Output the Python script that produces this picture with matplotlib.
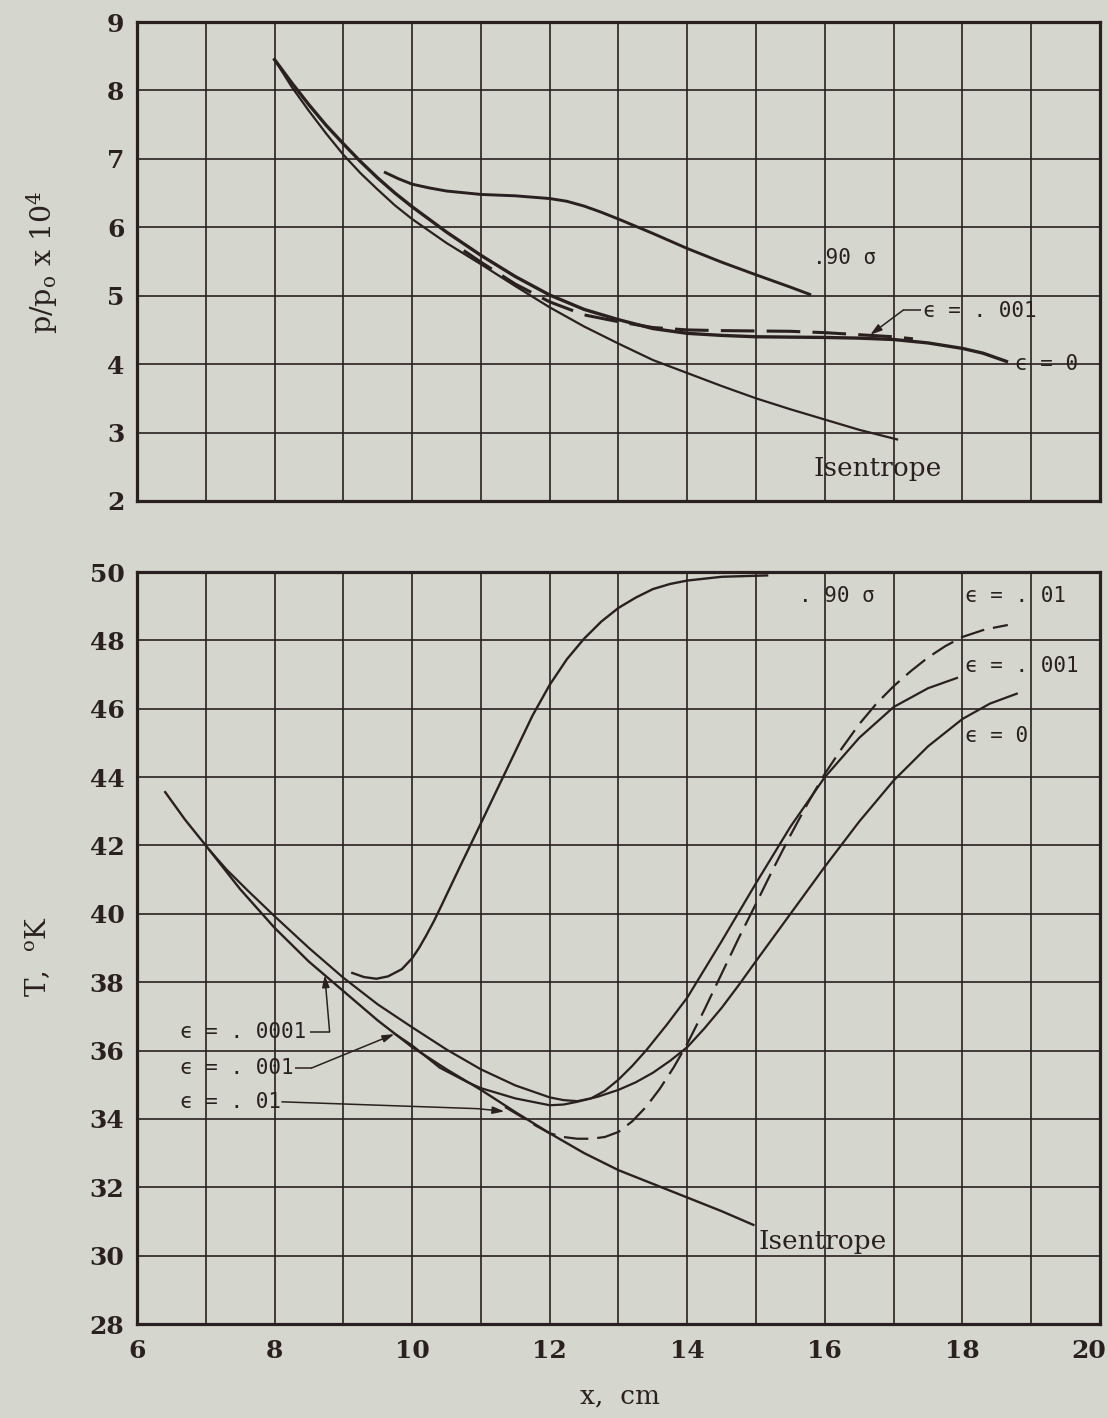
import matplotlib
matplotlib.use('Agg')
import matplotlib.pyplot as plt
import matplotlib.transforms as mtransforms

BG = '#d5d6ce'
INK = '#2a2020'

# ---------------- common x axis ----------------
x_ticks = list(range(6, 21))
x_ticklabels = ['6', '', '8', '', '10', '', '12', '', '14', '', '16', '', '18', '', '20']

# ---------------- upper panel: p/p0 x 10^4 ----------------
top_yticks = [2, 3, 4, 5, 6, 7, 8, 9]
top_yticklabels = ['2', '3', '4', '5', '6', '7', '8', '9']

top_isen_x = [8.0, 8.25, 8.5, 8.75, 9.0, 9.25, 9.5, 9.75, 10.0, 10.5, 11.0, 11.5, 12.0,
              12.5, 13.0, 13.5, 14.0, 14.5, 15.0, 15.5, 16.0, 16.5, 17.05]
top_isen_y = [8.45, 8.05, 7.70, 7.37, 7.06, 6.79, 6.55, 6.32, 6.12, 5.77, 5.46, 5.14, 4.83,
              4.55, 4.30, 4.06, 3.87, 3.68, 3.50, 3.34, 3.19, 3.04, 2.90]

top_e0_x = [8.0, 8.25, 8.5, 8.75, 9.0, 9.25, 9.5, 9.75, 10.0, 10.5, 11.0, 11.5, 12.0, 12.5,
            13.0, 13.5, 14.0, 14.5, 15.0, 15.5, 16.0, 16.5, 17.0, 17.5, 18.0, 18.3, 18.64]
top_e0_y = [8.45, 8.11, 7.79, 7.49, 7.22, 6.96, 6.72, 6.50, 6.30, 5.93, 5.59, 5.28, 5.01,
            4.80, 4.65, 4.52, 4.45, 4.42, 4.40, 4.395, 4.39, 4.38, 4.36, 4.31, 4.23, 4.16,
            4.04]

top_e001_x = [10.75, 11.0, 11.25, 11.5, 12.0, 12.5, 13.0, 13.5, 14.0, 14.5, 15.0, 15.5,
              16.0, 16.5, 17.0, 17.28]
top_e001_y = [5.66, 5.49, 5.33, 5.17, 4.91, 4.72, 4.62, 4.535, 4.50, 4.49, 4.485, 4.48,
              4.46, 4.43, 4.40, 4.37]

top_s90_x = [9.61, 9.8, 10.0, 10.25, 10.5, 11.0, 11.5, 12.0, 12.25, 12.5, 12.75, 13.0,
             13.5, 14.0, 14.5, 15.0, 15.5, 15.78]
top_s90_y = [6.80, 6.71, 6.63, 6.575, 6.53, 6.48, 6.46, 6.42, 6.38, 6.31, 6.22, 6.12,
             5.91, 5.69, 5.49, 5.305, 5.125, 5.02]

# ---------------- lower panel: T, K ----------------
bot_yticks = [28, 30, 32, 34, 36, 38, 40, 42, 44, 46, 48, 50]
bot_yticklabels = ['28', '30', '32', '34', '36', '38', '40', '42', '44', '46', '48', '50']

bot_isen_x = [6.41, 6.7, 7.0, 7.5, 8.0, 8.5, 9.0, 9.5, 10.0, 10.5, 11.0, 11.5, 12.0,
              12.5, 13.0, 13.5, 14.0, 14.5, 14.96]
bot_isen_y = [43.56, 42.75, 42.0, 40.72, 39.59, 38.6, 37.74, 36.88, 36.1, 35.45, 34.85,
              34.2, 33.58, 33.0, 32.5, 32.1, 31.7, 31.3, 30.9]

bot_e001_x = [7.06, 7.3, 7.6, 8.0, 8.5, 9.0, 9.5, 10.0, 10.5, 11.0, 11.5, 12.0, 12.2,
              12.4, 12.6, 12.8, 13.0, 13.2, 13.4, 13.7, 14.0, 14.5, 15.0, 15.5, 16.0,
              16.5, 17.0, 17.5, 17.92]
bot_e001_y = [41.85, 41.3, 40.7, 39.93, 39.0, 38.13, 37.35, 36.68, 36.03, 35.45, 34.98,
              34.63, 34.55, 34.52, 34.6, 34.82, 35.15, 35.55, 36.0, 36.75, 37.55, 39.2,
              40.9, 42.55, 44.0, 45.15, 46.05, 46.6, 46.9]

bot_e0_x = [9.74, 10.0, 10.4, 10.8, 11.0, 11.5, 12.0, 12.2, 12.4, 12.7, 13.0, 13.25, 13.5,
            13.75, 14.0, 14.25, 14.5, 14.75, 15.0, 15.5, 16.0, 16.5, 17.0, 17.5, 18.0,
            18.4, 18.79]
bot_e0_y = [36.5, 36.15, 35.5, 35.08, 34.9, 34.6, 34.4, 34.42, 34.5, 34.65, 34.85, 35.07,
            35.35, 35.7, 36.1, 36.65, 37.25, 37.92, 38.62, 40.0, 41.38, 42.7, 43.9, 44.9,
            45.7, 46.15, 46.44]

bot_e01_x = [11.35, 11.6, 11.8, 12.0, 12.2, 12.4, 12.6, 12.8, 13.0, 13.2, 13.4, 13.6,
             13.8, 14.0, 14.25, 14.5, 14.75, 15.0, 15.25, 15.5, 15.75, 16.0, 16.25, 16.5,
             16.75, 17.0, 17.25, 17.5, 17.75, 18.0, 18.33, 18.66]
bot_e01_y = [34.35, 34.05, 33.8, 33.58, 33.47, 33.42, 33.42, 33.47, 33.62, 33.93, 34.35,
             34.88, 35.5, 36.2, 37.2, 38.25, 39.3, 40.3, 41.32, 42.3, 43.23, 44.1, 44.85,
             45.55, 46.15, 46.66, 47.1, 47.5, 47.83, 48.1, 48.32, 48.45]

bot_s90_x = [9.13, 9.3, 9.48, 9.65, 9.85, 10.0, 10.1, 10.2, 10.32, 10.44, 10.7, 11.0,
             11.25, 11.5, 11.75, 12.0, 12.25, 12.5, 12.75, 13.0, 13.25, 13.5, 13.75, 14.0,
             14.5, 15.16]
bot_s90_y = [38.27, 38.15, 38.1, 38.17, 38.38, 38.7, 39.0, 39.35, 39.8, 40.3, 41.4, 42.65,
             43.7, 44.75, 45.8, 46.7, 47.45, 48.05, 48.55, 48.95, 49.25, 49.5, 49.65,
             49.75, 49.86, 49.9]

MONO = ['DejaVu Sans Mono', 'DejaVu Sans']
SERIF = ['DejaVu Serif', 'DejaVu Sans']
plt.rcParams['font.family'] = SERIF
plt.rcParams['mathtext.fontset'] = 'dejavuserif'

W, H = 1107, 1418
fig = plt.figure(figsize=(W / 100, H / 100), dpi=100, facecolor=BG)
L, R = 137, 1100
ax1 = fig.add_axes([L / W, (H - 501) / H, (R - L) / W, (501 - 22) / H])
ax2 = fig.add_axes([L / W, (H - 1324) / H, (R - L) / W, (1324 - 572) / H])


def style(ax, ylim, yticks, yticklabels, xlabels):
    ax.set_facecolor(BG)
    ax.set_xlim(6, 20)
    ax.set_ylim(*ylim)
    ax.set_xticks(x_ticks)
    ax.set_xticklabels(xlabels, fontsize=18, fontweight='bold', color=INK)
    ax.set_yticks(yticks)
    ax.set_yticklabels(yticklabels, fontsize=18, fontweight='bold', color=INK)
    ax.grid(True, color=INK, lw=1.2)
    ax.set_axisbelow(True)
    ax.tick_params(length=0)
    ax.tick_params(axis='y', pad=9)
    ax.tick_params(axis='x', pad=11)
    for sp in ax.spines.values():
        sp.set_linewidth(2.3)
        sp.set_color(INK)


style(ax1, (2, 9), top_yticks, top_yticklabels, [''] * len(x_ticks))
style(ax2, (28, 50), bot_yticks, bot_yticklabels, x_ticklabels)

# keep the last x tick label ("20") inside the picture
last = ax2.get_xticklabels()[-1]
last.set_transform(last.get_transform() +
                   mtransforms.ScaledTranslation(-11 / 100, 0, fig.dpi_scale_trans))

DASH = (0, (11, 4))

# upper curves
ax1.plot(top_isen_x, top_isen_y, color=INK, lw=1.6)
ax1.plot(top_e0_x, top_e0_y, color=INK, lw=2.4)
ax1.plot(top_e001_x, top_e001_y, color=INK, lw=2.2, ls=DASH)
ax1.plot(top_s90_x, top_s90_y, color=INK, lw=2.1)

# lower curves
ax2.plot(bot_isen_x, bot_isen_y, color=INK, lw=1.7)
ax2.plot(bot_e001_x, bot_e001_y, color=INK, lw=1.6)
ax2.plot(bot_e0_x, bot_e0_y, color=INK, lw=1.6)
ax2.plot(bot_e01_x, bot_e01_y, color=INK, lw=1.6, ls=DASH)
ax2.plot(bot_s90_x, bot_s90_y, color=INK, lw=1.7)

EPS = '\u03f5'


def lab(ax, x, y, s, fam=MONO, size=15):
    ax.text(x, y, s, family=fam, fontsize=size, color=INK, ha='left', va='center')


def leader(ax, pts, lw=1.1):
    xs = [p[0] for p in pts]
    ys = [p[1] for p in pts]
    ax.plot(xs[:-1], ys[:-1], color=INK, lw=lw, solid_capstyle='butt')
    ax.annotate('', xy=pts[-1], xytext=pts[-2],
                arrowprops=dict(arrowstyle='-|>,head_length=0.7,head_width=0.22',
                                color=INK, lw=lw, shrinkA=0, shrinkB=0))


# upper labels
lab(ax1, 15.83, 5.55, '.90 \u03c3')
lab(ax1, 17.43, 4.77, EPS + ' = . 001')
lab(ax1, 18.76, 4.00, EPS + ' = 0')
lab(ax1, 15.83, 2.47, 'Isentrope', fam=SERIF, size=19)
leader(ax1, [(17.40, 4.79), (17.14, 4.79), (16.66, 4.43)])

# lower labels
lab(ax2, 15.63, 49.3, '. 90 \u03c3')
lab(ax2, 18.04, 49.3, EPS + ' = . 01')
lab(ax2, 18.04, 47.26, EPS + ' = . 001')
lab(ax2, 18.04, 45.2, EPS + ' = 0')
lab(ax2, 15.03, 30.4, 'Isentrope', fam=SERIF, size=19)
lab(ax2, 6.63, 36.55, EPS + ' = . 0001')
lab(ax2, 6.63, 35.49, EPS + ' = . 001')
lab(ax2, 6.63, 34.50, EPS + ' = . 01')
leader(ax2, [(8.52, 36.55), (8.80, 36.55), (8.73, 38.2)])
leader(ax2, [(8.29, 35.49), (8.54, 35.49), (9.74, 36.48)])
leader(ax2, [(8.10, 34.50), (10.95, 34.30), (11.34, 34.22)])

# axis titles
fig.text(42 / W, 1 - 262 / H, r'p/p$_\mathregular{o}$ x 10$^\mathregular{4}$',
         rotation=90, ha='center', va='center', fontsize=20.5, color=INK, family=SERIF)
fig.text(38 / W, 1 - 957 / H, r'T,  $^\mathregular{o}$K',
         rotation=90, ha='center', va='center', fontsize=20, color=INK, family=SERIF)
fig.text(620 / W, 1 - 1396 / H, 'x,  cm', ha='center', va='center', fontsize=19,
         color=INK, family=SERIF)

fig.savefig('out.png', dpi=100, facecolor=BG)
